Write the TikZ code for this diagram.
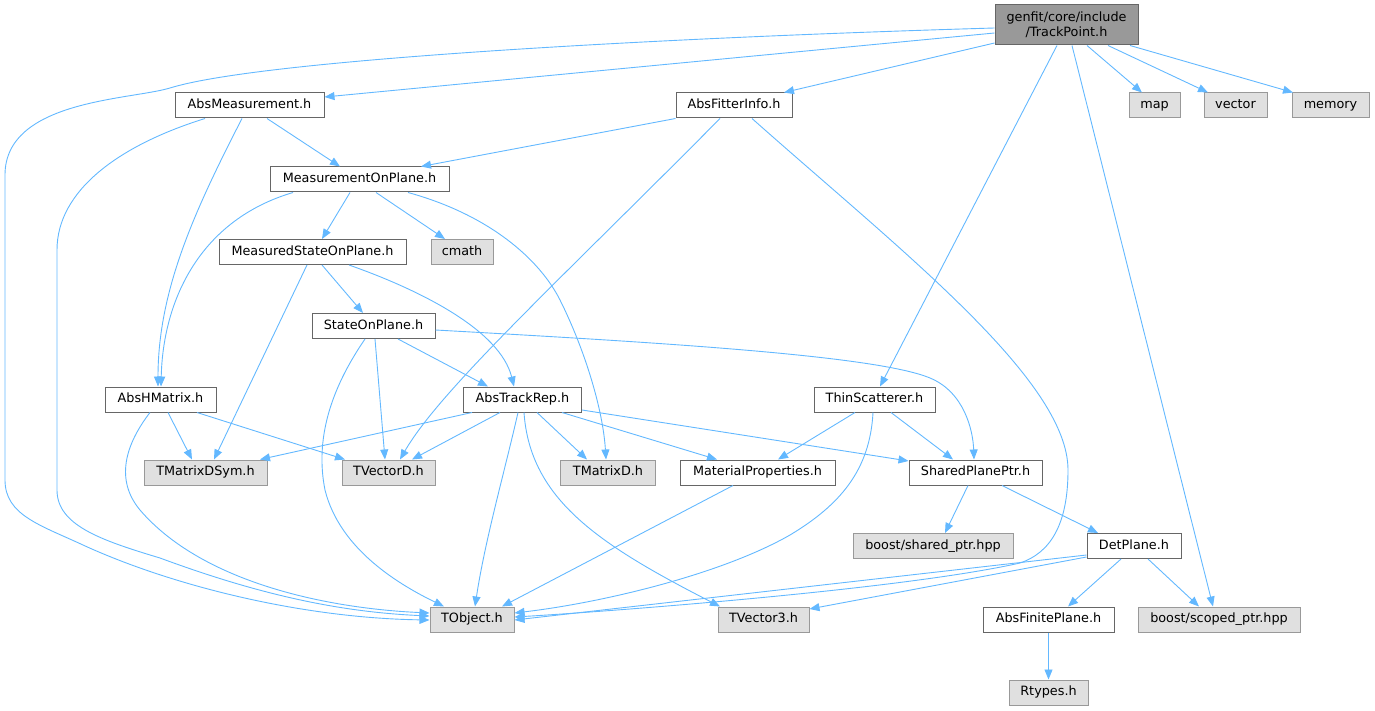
\documentclass[tikz,border=0pt]{standalone}
\usepackage{fontspec}
\setmainfont{DejaVu Sans}
\usetikzlibrary{arrows.meta}
\definecolor{edgec}{HTML}{63B8FF}
\definecolor{extfill}{HTML}{E0E0E0}
\definecolor{extdraw}{HTML}{999999}
\definecolor{intdraw}{HTML}{666666}
\definecolor{rootfill}{HTML}{999999}
\tikzset{
  box/.style={rectangle, inner sep=0pt, line width=1pt, minimum height=25pt, font=\fontsize{12.8}{15}\selectfont, text=black},
  onebox/.style={box, text height=9.6pt, text depth=3.2pt},
  wnode/.style={onebox, fill=white, draw=intdraw},
  gnode/.style={onebox, fill=extfill, draw=extdraw},
  rootnode/.style={box, fill=rootfill, draw=intdraw, align=center},
  edge/.style={draw=edgec, line width=0.9pt, -{Triangle[length=10pt,width=8pt]}, fill=none},
}
\begin{document}
\begin{tikzpicture}[x=1pt,y=-1pt]
\useasboundingbox (0,0) rectangle (1375,711);
% nodes
\node[rootnode, minimum width=143pt, minimum height=40pt] (tp) at (1066.5,25) {genfit/core/include\\/TrackPoint.h};
\node[wnode, minimum width=149pt] (absmeas) at (249.5,105.5) {AbsMeasurement.h};
\node[wnode, minimum width=116pt] (absfit) at (734,105.5) {AbsFitterInfo.h};
\node[gnode, minimum width=51pt] (map) at (1154.5,105.5) {map};
\node[gnode, minimum width=63pt] (vector) at (1235.5,105.5) {vector};
\node[gnode, minimum width=77pt] (memory) at (1330.5,105.5) {memory};
\node[wnode, minimum width=179pt] (mop) at (359.5,179.5) {MeasurementOnPlane.h};
\node[wnode, minimum width=187pt] (msop) at (312.5,252) {MeasuredStateOnPlane.h};
\node[gnode, minimum width=62pt] (cmath) at (462,252) {cmath};
\node[wnode, minimum width=123pt] (sop) at (373.5,326) {StateOnPlane.h};
\node[wnode, minimum width=111pt] (ahm) at (160.5,399.5) {AbsHMatrix.h};
\node[wnode, minimum width=118pt] (atr) at (522.5,399.5) {AbsTrackRep.h};
\node[wnode, minimum width=121pt] (thin) at (874.5,399.5) {ThinScatterer.h};
\node[gnode, minimum width=123pt] (tmds) at (205.5,472.5) {TMatrixDSym.h};
\node[gnode, minimum width=93pt] (tvd) at (388.5,472.5) {TVectorD.h};
\node[gnode, minimum width=95pt] (tmd) at (608,472.5) {TMatrixD.h};
\node[wnode, minimum width=155pt] (matp) at (757.5,472.5) {MaterialProperties.h};
\node[wnode, minimum width=133pt] (spp) at (975.5,472.5) {SharedPlanePtr.h};
\node[gnode, minimum width=160pt] (bsp) at (933,546) {boost/shared\_ptr.hpp};
\node[wnode, minimum width=94pt] (det) at (1134,546) {DetPlane.h};
\node[gnode, minimum width=84pt] (tobj) at (472,619.5) {TObject.h};
\node[gnode, minimum width=91pt] (tv3) at (763.5,619.5) {TVector3.h};
\node[wnode, minimum width=131pt] (afp) at (1048.5,619.5) {AbsFinitePlane.h};
\node[gnode, minimum width=162pt] (bscp) at (1219,619.5) {boost/scoped\_ptr.hpp};
\node[gnode, minimum width=79pt] (rtypes) at (1048.5,692.5) {Rtypes.h};
% edges from TrackPoint
\draw[edge] (tp.west |- 0,33) -- (absmeas.east |- 0,97);
\draw[edge] (tp.west |- 0,28) .. controls (650,38) and (260,60) .. (170,88)
   .. controls (130,100) and (5,100) .. (5,175) -- (5,480)
   .. controls (5,515) and (40,525) .. (83,545)
   .. controls (170,585) and (300,618) .. (tobj.west |- 0,620);
\draw[edge] (tp.west |- 0,43) -- (absfit.north -| 784,0);
\draw[edge] (tp.south -| 1057,0) -- (thin.north -| 880,0);
\draw[edge] (tp.south -| 1072,0) -- (bscp.north -| 1213,0);
\draw[edge] (tp.south -| 1087,0) -- (map.north -| 1142,0);
\draw[edge] (tp.south -| 1108,0) -- (vector.north -| 1208,0);
\draw[edge] (tp.south -| 1130,0) -- (memory.north -| 1293,0);
% AbsMeasurement
\draw[edge] (absmeas.south -| 205,0) .. controls (120,145) and (57,190) .. (57,250) -- (57,490)
   .. controls (57,525) and (100,540) .. (160,558)
   .. controls (260,595) and (340,612) .. (tobj.west |- 0,616);
\draw[edge] (absmeas.south -| 242,0) .. controls (195,210) and (158,290) .. (ahm.north -| 158,0);
\draw[edge] (absmeas.south -| 267,0) -- (mop.north -| 340,0);
% AbsFitterInfo
\draw[edge] (absfit.south west) -- (mop.north -| 421,0);
\draw[edge] (absfit.south -| 720,0) .. controls (560,280) and (440,390) .. (tvd.north -| 400,0);
\draw[edge] (absfit.south -| 752,0) .. controls (900,250) and (1068,380) .. (1068,470)
   .. controls (1068,525) and (1050,553) .. (1020,563)
   .. controls (900,590) and (600,612) .. (tobj.east |- 0,617);
% MeasurementOnPlane
\draw[edge] (mop.south -| 350,0) -- (msop.north -| 322,0);
\draw[edge] (mop.south -| 376,0) -- (cmath.north -| 445,0);
\draw[edge] (mop.south -| 293,0) .. controls (200,220) and (163,300) .. (ahm.north -| 161,0);
\draw[edge] (mop.south -| 408,0) .. controls (490,215) and (540,260) .. (560,300)
   .. controls (585,350) and (603,410) .. (tmd.north -| 606,0);
% MeasuredStateOnPlane
\draw[edge] (msop.south -| 322,0) -- (sop.north -| 363,0);
\draw[edge] (msop.south -| 307,0) -- (tmds.north -| 214,0);
\draw[edge] (msop.south -| 349,0) .. controls (420,290) and (500,330) .. (atr.north -| 514,0);
% StateOnPlane
\draw[edge] (sop.south -| 398,0) -- (atr.north -| 488,0);
\draw[edge] (sop.south -| 375,0) -- (tvd.north -| 385,0);
\draw[edge] (sop.south -| 365,0) .. controls (330,390) and (315,440) .. (325,490)
   .. controls (340,550) and (400,585) .. (tobj.north -| 444,0);
\draw[edge] (sop.east |- 0,330) .. controls (650,342) and (875,355) .. (930,378)
   .. controls (964,392) and (973,430) .. (spp.north -| 974,0);
% AbsHMatrix
\draw[edge] (ahm.south -| 168,0) -- (tmds.north -| 192,0);
\draw[edge] (ahm.south -| 197,0) -- (tvd.north -| 345,0);
\draw[edge] (ahm.south -| 150,0) .. controls (125,445) and (115,480) .. (140,510)
   .. controls (200,580) and (320,608) .. (tobj.west |- 0,613);
% AbsTrackRep
\draw[edge] (atr.south -| 472,0) -- (tmds.north -| 260,0);
\draw[edge] (atr.south -| 500,0) -- (tvd.north -| 412,0);
\draw[edge] (atr.south -| 537,0) -- (tmd.north -| 587,0);
\draw[edge] (atr.south -| 562,0) -- (matp.north -| 717,0);
\draw[edge] (atr.east |- 0,410) -- (spp.west |- 0,461);
\draw[edge] (atr.south -| 518,0) .. controls (505,470) and (485,540) .. (tobj.north -| 475,0);
\draw[edge] (atr.south -| 524,0) .. controls (530,500) and (600,545) .. (tv3.north -| 720,0);
% ThinScatterer
\draw[edge] (thin.south -| 855,0) -- (matp.north -| 778,0);
\draw[edge] (thin.south -| 891,0) -- (spp.north -| 953,0);
\draw[edge] (thin.south -| 873,0) .. controls (870,470) and (840,505) .. (790,535)
   .. controls (720,575) and (600,603) .. (tobj.east |- 0,613);
% MaterialProperties
\draw[edge] (matp.south -| 733,0) -- (tobj.north -| 502,0);
% SharedPlanePtr
\draw[edge] (spp.south -| 968,0) -- (bsp.north -| 945,0);
\draw[edge] (spp.south -| 1002,0) -- (det.north -| 1098,0);
% DetPlane
\draw[edge] (det.south -| 1121,0) -- (afp.north -| 1068,0);
\draw[edge] (det.south -| 1148,0) -- (bscp.north -| 1199,0);
\draw[edge] (det.west |- 0,557) -- (tv3.east |- 0,609);
\draw[edge] (det.west |- 0,555) -- (tobj.east |- 0,620);
% AbsFinitePlane
\draw[edge] (afp.south) -- (rtypes.north);
\end{tikzpicture}
\end{document}
